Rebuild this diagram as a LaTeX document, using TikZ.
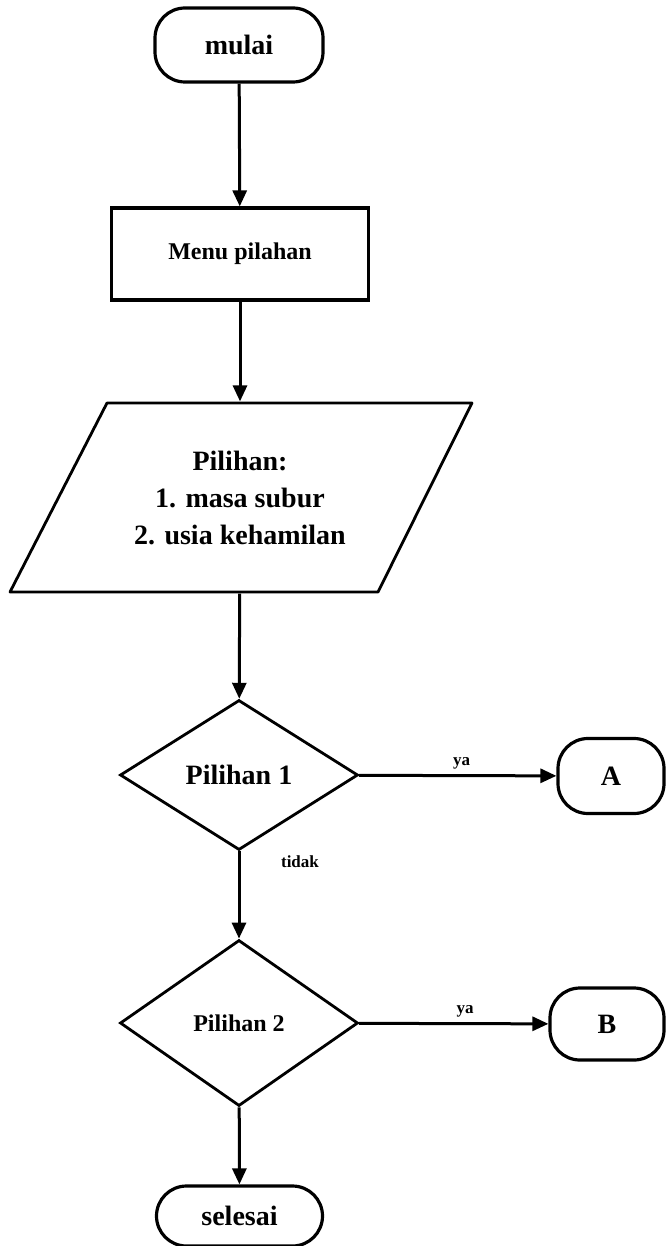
\documentclass[tikz,border=0pt]{standalone}
\usepackage{fontspec}
\setmainfont{Liberation Serif}
\usetikzlibrary{shapes.geometric,arrows.meta}
\begin{document}
\begin{tikzpicture}[x=1pt,y=-1pt,
  line width=3.2pt,
  terminal/.style={draw,rectangle,rounded corners=30pt,inner sep=0pt},
  procbox/.style={draw,rectangle,inner sep=0pt},
  decision/.style={draw,diamond,inner sep=0pt,line width=2.8pt},
  arr/.style={-{Triangle[length=16pt,width=14pt]},line width=3pt},
  big/.style={font=\bfseries\fontsize{28}{37}\selectfont},
  lbl/.style={font=\bfseries\fontsize{17}{20}\selectfont,inner sep=0pt}]
\useasboundingbox (0,0) rectangle (666,1246);
\node[terminal,big,minimum width=168pt,minimum height=74pt] (mulai) at (239,45) {mulai};
\node[procbox,minimum width=257pt,minimum height=92pt,font=\bfseries\fontsize{24}{28}\selectfont] (menu) at (240,254) {Menu pilahan};
\draw[line width=2.8pt,line join=round] (107,403) -- (472,403) -- (378,592) -- (10,592) -- cycle;
\node[inner sep=0pt,minimum width=200pt,minimum height=189pt,align=center,big] (pil) at (240,497.5) {Pilihan:\\1. masa subur\\2. usia kehamilan};
\node[decision,minimum width=238pt,minimum height=150pt,big] (d1) at (239,775) {Pilihan 1};
\node[decision,minimum width=238pt,minimum height=166pt,font=\bfseries\fontsize{24}{28}\selectfont] (d2) at (239,1023) {Pilihan 2};
\node[terminal,big,minimum width=106pt,minimum height=75pt] (A) at (611,776) {A};
\node[terminal,big,minimum width=114pt,minimum height=72pt] (B) at (607,1024) {B};
\node[terminal,big,minimum width=166pt,minimum height=60pt] (sel) at (239.5,1216) {selesai};
\draw[arr] (mulai) -- (menu);
\draw[arr] (menu) -- (pil);
\draw[arr] (pil) -- (d1);
\draw[arr] (d1) -- node[lbl,above=5pt,pos=0.52] (ya1) {ya} (A);
\draw[arr] (d1) -- (d2);
\node[lbl] (tidak) at (300,862) {tidak};
\draw[arr] (d2) -- node[lbl,above=5pt,pos=0.56] (ya2) {ya} (B);
\draw[arr] (d2) -- (sel);
\end{tikzpicture}
\end{document}
